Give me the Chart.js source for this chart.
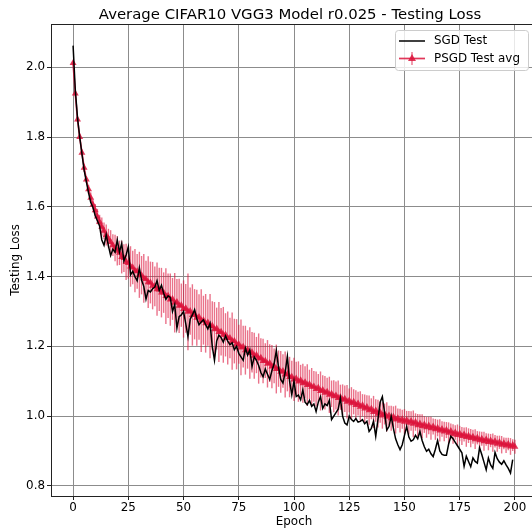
<!DOCTYPE html>
<html>
<head>
<meta charset="utf-8">
<script src="https://cdn.jsdelivr.net/npm/chart.js@4/dist/chart.umd.min.js"></script>
<style>
  html, body { margin: 0; padding: 0; overflow: hidden; background: #fff; }
  canvas { display: block; }
</style>
</head>
<body>
<canvas id="chart" width="545" height="529"></canvas>
<script>
// SGD test loss, epochs 0..199
const sgdTest = [
  2.062, 1.935, 1.855, 1.800, 1.752, 1.705, 1.672, 1.640, 1.612, 1.598,
  1.575, 1.560, 1.545, 1.505, 1.490, 1.520, 1.488, 1.460, 1.478, 1.470,
  1.505, 1.470, 1.495, 1.445, 1.462, 1.485, 1.405, 1.415, 1.400, 1.388,
  1.425, 1.390, 1.372, 1.335, 1.360, 1.356, 1.365, 1.370, 1.388, 1.360,
  1.375, 1.352, 1.335, 1.345, 1.340, 1.300, 1.320, 1.252, 1.285, 1.290,
  1.300, 1.265, 1.228, 1.278, 1.290, 1.305, 1.280, 1.262, 1.270, 1.276,
  1.262, 1.250, 1.266, 1.200, 1.160, 1.215, 1.232, 1.225, 1.212, 1.230,
  1.215, 1.205, 1.210, 1.190, 1.200, 1.180, 1.170, 1.160, 1.195, 1.175,
  1.190, 1.142, 1.170, 1.160, 1.145, 1.125, 1.113, 1.135, 1.120, 1.105,
  1.130, 1.150, 1.188, 1.140, 1.105, 1.095, 1.125, 1.171, 1.100, 1.061,
  1.100, 1.056, 1.060, 1.047, 1.075, 1.040, 1.033, 1.045, 1.028, 1.035,
  1.013, 1.040, 1.056, 1.022, 1.035, 1.030, 1.045, 0.990, 1.000, 1.010,
  1.020, 1.052, 1.000, 0.980, 0.975, 1.000, 0.990, 0.985, 0.993, 0.983,
  0.985, 0.990, 0.978, 0.985, 0.956, 0.965, 0.985, 0.942, 0.990, 1.040,
  1.056, 1.010, 0.960, 0.970, 1.000, 0.965, 0.935, 0.918, 0.904, 0.918,
  0.945, 0.970, 0.940, 0.928, 0.932, 0.945, 0.935, 0.956, 0.930, 0.912,
  0.899, 0.905, 0.892, 0.884, 0.905, 0.930, 0.900, 0.890, 0.888, 0.888,
  0.920, 0.942, 0.935, 0.925, 0.915, 0.905, 0.895, 0.856, 0.885, 0.870,
  0.855, 0.880, 0.870, 0.865, 0.909, 0.890, 0.868, 0.846, 0.880, 0.860,
  0.850, 0.896, 0.878, 0.868, 0.862, 0.872, 0.860, 0.850, 0.837, 0.875
];

// PSGD test loss averaged over runs, epochs 0..200
const psgdAvg = [
  2.012, 1.925, 1.850, 1.800, 1.755, 1.712, 1.678, 1.650, 1.626, 1.606,
  1.590, 1.572, 1.557, 1.543, 1.531, 1.519, 1.509, 1.499, 1.490, 1.482,
  1.474, 1.468, 1.456, 1.453, 1.442, 1.439, 1.429, 1.426, 1.417, 1.415,
  1.405, 1.404, 1.395, 1.393, 1.384, 1.383, 1.374, 1.372, 1.364, 1.363,
  1.354, 1.354, 1.344, 1.345, 1.334, 1.336, 1.325, 1.327, 1.316, 1.318,
  1.307, 1.309, 1.299, 1.301, 1.290, 1.292, 1.282, 1.284, 1.274, 1.275,
  1.266, 1.268, 1.258, 1.259, 1.249, 1.251, 1.241, 1.242, 1.233, 1.233,
  1.224, 1.224, 1.215, 1.215, 1.206, 1.206, 1.197, 1.199, 1.189, 1.191,
  1.181, 1.183, 1.173, 1.175, 1.165, 1.167, 1.158, 1.159, 1.150, 1.152,
  1.142, 1.144, 1.135, 1.136, 1.127, 1.129, 1.119, 1.121, 1.112, 1.113,
  1.105, 1.108, 1.099, 1.103, 1.094, 1.097, 1.089, 1.091, 1.084, 1.085,
  1.078, 1.081, 1.072, 1.075, 1.067, 1.070, 1.061, 1.064, 1.057, 1.059,
  1.052, 1.054, 1.047, 1.050, 1.041, 1.045, 1.037, 1.041, 1.032, 1.036,
  1.027, 1.031, 1.022, 1.026, 1.017, 1.021, 1.012, 1.016, 1.007, 1.011,
  1.002, 1.006, 0.998, 1.002, 0.994, 0.998, 0.990, 0.994, 0.987, 0.991,
  0.984, 0.989, 0.981, 0.986, 0.978, 0.983, 0.974, 0.979, 0.971, 0.976,
  0.968, 0.973, 0.965, 0.970, 0.962, 0.966, 0.959, 0.963, 0.956, 0.960,
  0.952, 0.957, 0.949, 0.953, 0.946, 0.950, 0.943, 0.947, 0.940, 0.944,
  0.937, 0.941, 0.934, 0.938, 0.931, 0.935, 0.928, 0.933, 0.926, 0.930,
  0.924, 0.928, 0.921, 0.925, 0.918, 0.922, 0.916, 0.920, 0.913, 0.917,
  0.912
];

// half-height of PSGD error bars
const psgdErr = [
  0.006, 0.008, 0.007, 0.010, 0.009, 0.012, 0.010, 0.013, 0.015, 0.014,
  0.018, 0.022, 0.020, 0.026, 0.024, 0.030, 0.028, 0.034, 0.031, 0.038,
  0.042, 0.035, 0.047, 0.040, 0.052, 0.045, 0.058, 0.048, 0.062, 0.050,
  0.066, 0.055, 0.070, 0.052, 0.074, 0.060, 0.068, 0.057, 0.076, 0.062,
  0.071, 0.058, 0.080, 0.064, 0.075, 0.060, 0.085, 0.066, 0.078, 0.062,
  0.082, 0.070, 0.110, 0.068, 0.088, 0.072, 0.080, 0.065, 0.090, 0.070,
  0.084, 0.066, 0.092, 0.070, 0.078, 0.060, 0.086, 0.068, 0.080, 0.062,
  0.076, 0.058, 0.082, 0.064, 0.072, 0.056, 0.080, 0.060, 0.070, 0.055,
  0.074, 0.058, 0.066, 0.052, 0.072, 0.056, 0.064, 0.050, 0.068, 0.054,
  0.062, 0.050, 0.070, 0.052, 0.060, 0.048, 0.066, 0.050, 0.058, 0.046,
  0.062, 0.048, 0.058, 0.044, 0.056, 0.046, 0.060, 0.042, 0.054, 0.044,
  0.050, 0.040, 0.056, 0.042, 0.048, 0.040, 0.052, 0.038, 0.046, 0.040,
  0.050, 0.036, 0.044, 0.038, 0.048, 0.034, 0.046, 0.036, 0.042, 0.034,
  0.044, 0.032, 0.040, 0.034, 0.042, 0.030, 0.046, 0.032, 0.040, 0.030,
  0.038, 0.030, 0.042, 0.028, 0.036, 0.030, 0.040, 0.028, 0.034, 0.027,
  0.036, 0.026, 0.034, 0.028, 0.038, 0.025, 0.032, 0.026, 0.034, 0.024,
  0.030, 0.025, 0.033, 0.023, 0.030, 0.024, 0.032, 0.022, 0.028, 0.023,
  0.030, 0.022, 0.028, 0.021, 0.030, 0.022, 0.026, 0.020, 0.028, 0.021,
  0.026, 0.020, 0.028, 0.019, 0.025, 0.020, 0.027, 0.018, 0.024, 0.019,
  0.026, 0.018, 0.023, 0.019, 0.025, 0.017, 0.022, 0.018, 0.024, 0.017,
  0.020
];

const xTicks = [0, 25, 50, 75, 100, 125, 150, 175, 200];
const yTicks = [0.8, 1.0, 1.2, 1.4, 1.6, 1.8, 2.0];

const FONT = "'DejaVu Sans', sans-serif";
const FS = 11.9;
const RED = 'rgba(220, 20, 60, 0.85)';
const RED_BAR = 'rgba(220, 20, 60, 0.6)';

// error bars go under the PSGD line, over the SGD line
const errorBars = {
  id: 'errorBars',
  beforeDatasetDraw(chart, args) {
    if (args.index !== 1) return;
    const { ctx, scales: { x, y } } = chart;
    ctx.save();
    ctx.strokeStyle = RED_BAR;
    ctx.lineWidth = 1.4;
    psgdAvg.forEach((v, i) => {
      const px = x.getPixelForValue(i);
      ctx.beginPath();
      ctx.moveTo(px, y.getPixelForValue(v - psgdErr[i]));
      ctx.lineTo(px, y.getPixelForValue(v + psgdErr[i]));
      ctx.stroke();
    });
    ctx.restore();
  }
};

// title (centred like matplotlib's), top/right spines, legend box
const frameAndLegend = {
  id: 'frameAndLegend',
  afterDraw(chart) {
    const { ctx, chartArea: a } = chart;
    ctx.save();
    ctx.strokeStyle = '#222';
    ctx.lineWidth = 1;
    ctx.beginPath();
    ctx.moveTo(a.left, a.top + 0.5);
    ctx.lineTo(a.right, a.top + 0.5);
    ctx.moveTo(a.right - 0.5, a.top);
    ctx.lineTo(a.right - 0.5, a.bottom);
    ctx.stroke();

    ctx.fillStyle = '#000';
    ctx.font = '14.9px ' + FONT;
    ctx.textAlign = 'center';
    ctx.textBaseline = 'alphabetic';
    ctx.fillText(chart.options.plugins.title.text, 290, 18.5);
    ctx.textAlign = 'left';

    const bx = 395.5, by = 30.5, bw = 133, bh = 40;
    ctx.fillStyle = 'rgba(255,255,255,0.8)';
    ctx.strokeStyle = '#cccccc';
    ctx.beginPath();
    ctx.roundRect(bx, by, bw, bh, 3);
    ctx.fill();
    ctx.stroke();

    const ds = chart.data.datasets;
    ctx.font = FS + 'px ' + FONT;
    ctx.textBaseline = 'middle';
    ctx.fillStyle = '#000';
    // SGD entry
    ctx.strokeStyle = '#000';
    ctx.lineWidth = 1.5;
    ctx.beginPath();
    ctx.moveTo(399, 41);
    ctx.lineTo(425, 41);
    ctx.stroke();
    ctx.fillText(ds[0].label, 434, 41);
    // PSGD entry
    ctx.strokeStyle = RED_BAR;
    ctx.lineWidth = 1.4;
    ctx.beginPath();
    ctx.moveTo(412, 52);
    ctx.lineTo(412, 65);
    ctx.stroke();
    ctx.strokeStyle = RED;
    ctx.lineWidth = 1.7;
    ctx.beginPath();
    ctx.moveTo(399, 58.5);
    ctx.lineTo(425, 58.5);
    ctx.stroke();
    ctx.fillStyle = RED;
    ctx.beginPath();
    ctx.moveTo(412, 54);
    ctx.lineTo(416, 61);
    ctx.lineTo(408, 61);
    ctx.closePath();
    ctx.fill();
    ctx.fillStyle = '#000';
    ctx.fillText(ds[1].label, 434, 58.5);
    ctx.restore();
  }
};

new Chart(document.getElementById('chart'), {
  type: 'line',
  data: {
    datasets: [
      {
        label: 'SGD Test',
        data: sgdTest.map((v, i) => ({ x: i, y: v })),
        borderColor: '#000',
        borderWidth: 1.5,
        pointRadius: 0,
        tension: 0
      },
      {
        label: 'PSGD Test avg',
        data: psgdAvg.map((v, i) => ({ x: i, y: v })),
        borderColor: RED,
        borderWidth: 1.7,
        pointStyle: 'triangle',
        pointRadius: 4,
        pointBackgroundColor: RED,
        pointBorderColor: RED,
        pointBorderWidth: 0,
        tension: 0
      }
    ]
  },
  options: {
    responsive: false,
    animation: false,
    devicePixelRatio: 1,
    layout: { padding: { left: 0, right: 8, top: 24, bottom: 0 } },
    plugins: {
      legend: { display: false },
      tooltip: { enabled: false },
      // text kept here, drawn by frameAndLegend so it can sit centred on x=290
      title: {
        display: false,
        text: 'Average CIFAR10 VGG3 Model r0.025 - Testing Loss'
      }
    },
    scales: {
      x: {
        type: 'linear',
        min: -10,
        max: 210,
        afterBuildTicks: s => { s.ticks = xTicks.map(v => ({ value: v })); },
        afterFit: s => { s.height = 33; },
        ticks: {
          color: '#000',
          font: { family: FONT, size: FS },
          padding: 1,
          maxRotation: 0,
          callback: v => String(v)
        },
        grid: { color: '#8c8c8c', lineWidth: 1, tickColor: '#222', tickLength: 4 },
        border: { color: '#222', width: 1 },
        title: {
          display: true,
          text: 'Epoch',
          color: '#000',
          font: { family: FONT, size: FS },
          padding: { top: 0, bottom: 0 }
        }
      },
      y: {
        min: 0.771,
        max: 2.124,
        afterBuildTicks: s => { s.ticks = yTicks.map(v => ({ value: v })); },
        afterFit: s => { s.width = 51; },
        ticks: {
          color: '#000',
          font: { family: FONT, size: FS },
          padding: 2,
          callback: v => v.toFixed(1)
        },
        grid: { color: '#8c8c8c', lineWidth: 1, tickColor: '#222', tickLength: 4 },
        border: { color: '#222', width: 1 },
        title: {
          display: true,
          text: 'Testing Loss',
          color: '#000',
          font: { family: FONT, size: FS },
          padding: { top: 9, bottom: 0 }
        }
      }
    }
  },
  plugins: [errorBars, frameAndLegend]
});
</script>
</body>
</html>
